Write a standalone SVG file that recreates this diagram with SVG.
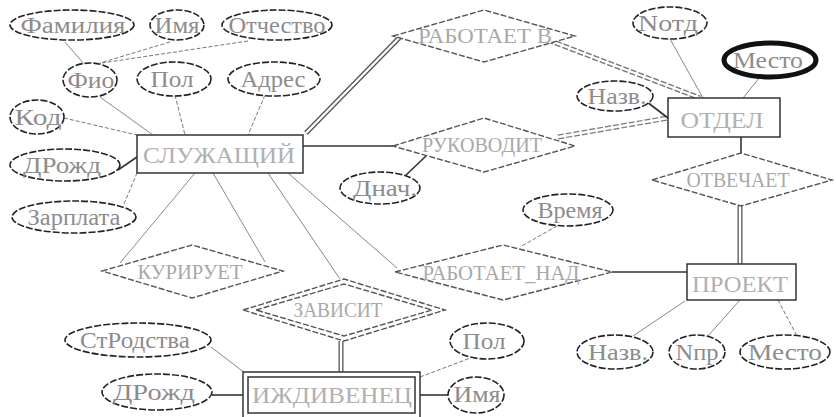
<svg xmlns="http://www.w3.org/2000/svg" width="836" height="417" viewBox="0 0 836 417">
<style>
text{font-family:"Liberation Serif","DejaVu Serif",serif;text-anchor:middle}
.at{font-size:23px;fill:#8c8c8c}
.en{font-size:24px;fill:#b0b0b0}
.rl{font-size:21px;fill:#a8a8a8}
.el{fill:#fff;stroke:#222;stroke-width:1.6;stroke-dasharray:7 2}
.key{fill:#fff;stroke:#111;stroke-width:5}
.rc{fill:#fff;stroke:#333;stroke-width:1.5}
.dm{fill:#fff;stroke:#555;stroke-width:1.4;stroke-dasharray:6 2}
.s{stroke:#888;stroke-width:1;fill:none}
.d{stroke:#777;stroke-width:1;stroke-dasharray:4 2;fill:none}
.k{stroke:#333;stroke-width:1.6;fill:none}
.dbo{stroke:#555;stroke-width:5;fill:none}
.dbi{stroke:#fff;stroke-width:2.4;fill:none}
.dbod{stroke:#777;stroke-width:5;fill:none;stroke-dasharray:6 2}
</style>
<rect width="836" height="417" fill="#fff"/>
<g id="connectors">
<path class="s" d="M65,42 L84,64"/>
<path class="d" d="M170,42 L100,63"/>
<path class="d" d="M248,41 L102,63"/>
<path class="s" d="M100,97 L153,135"/>
<path class="d" d="M175,95 L185,135"/>
<path class="d" d="M265,95 L248,135"/>
<path class="d" d="M64,118 L137,135"/>
<path class="k" d="M118,170 L137,157"/>
<path class="d" d="M124,204 L137,173"/>
<path class="s" d="M195,173 L120,263"/>
<path class="s" d="M213,173 L265,262"/>
<path class="s" d="M268,173 L340,279"/>
<path class="s" d="M288,173 L397,268"/>
<path class="dbo" d="M306,133 L400,37"/>
<path class="dbi" d="M306,133 L400,37"/>
<path class="k" d="M303,146 L393,146"/>
<path class="dbod" d="M548,40 L700,98"/>
<path class="dbi" d="M548,40 L700,98"/>
<path class="dbod" d="M558,137 L668,118"/>
<path class="dbi" d="M558,137 L668,118"/>
<path class="k" d="M405,176 L426,156"/>
<path class="s" d="M670,39 L703,98"/>
<path class="s" d="M760,77 L743,98"/>
<path class="k" d="M647,102 L668,118"/>
<path class="k" d="M741,137 L741,153"/>
<path class="dbo" d="M740,206 L740,264"/>
<path class="dbi" d="M740,206 L740,264"/>
<path class="d" d="M557,226 L520,247"/>
<path class="k" d="M612,272 L687,272"/>
<path class="s" d="M685,301 L633,336"/>
<path class="s" d="M740,300 L708,336"/>
<path class="d" d="M778,300 L797,336"/>
<path class="dbo" d="M341,341 L341,372"/>
<path class="dbi" d="M341,341 L341,372"/>
<path class="s" d="M211,347 L245,373"/>
<path class="k" d="M212,395 L243,395"/>
<path class="d" d="M420,377 L473,357"/>
<path class="k" d="M420,395 L448,395"/>
</g>
<g id="e-sluzh"><rect class="rc" x="137" y="135" width="166" height="38"/><text class="en" x="219" y="163" textLength="152" lengthAdjust="spacingAndGlyphs">СЛУЖАЩИЙ</text></g>
<g id="e-otdel"><rect class="rc" x="668" y="98" width="112" height="39"/><text class="en" x="722" y="128" textLength="83" lengthAdjust="spacingAndGlyphs">ОТДЕЛ</text></g>
<g id="e-proekt"><rect class="rc" x="687" y="264" width="109" height="36"/><text class="en" x="740" y="292" textLength="96" lengthAdjust="spacingAndGlyphs">ПРОЕКТ</text></g>
<g id="e-izhd"><rect class="rc" x="243" y="372" width="177" height="48"/><rect class="rc" x="248" y="377" width="167" height="36"/><text class="en" x="332" y="403" textLength="160" lengthAdjust="spacingAndGlyphs">ИЖДИВЕНЕЦ</text></g>
<g id="r-rabv"><polygon class="dm" points="393,36 484,10 575,36 484,62"/><text class="rl" x="485" y="43" textLength="134" lengthAdjust="spacingAndGlyphs">РАБОТАЕТ В</text></g>
<g id="r-ruk"><polygon class="dm" points="393,146 484,118 575,146 484,172"/><text class="rl" x="482" y="152" textLength="120" lengthAdjust="spacingAndGlyphs">РУКОВОДИТ</text></g>
<g id="r-otv"><polygon class="dm" points="652,180 741,153 832,180 741,206"/><text class="rl" x="738" y="187" font-size="18" textLength="103" lengthAdjust="spacingAndGlyphs">ОТВЕЧАЕТ</text></g>
<g id="r-rabnad"><polygon class="dm" points="395,272 503,245 612,272 503,300"/><text class="rl" x="501" y="280" textLength="157" lengthAdjust="spacingAndGlyphs">РАБОТАЕТ_НАД</text></g>
<g id="r-kur"><polygon class="dm" points="102,271 192,245 283,271 192,298"/><text class="rl" x="190" y="279" textLength="105" lengthAdjust="spacingAndGlyphs">КУРИРУЕТ</text></g>
<g id="r-zav"><polygon class="dm" points="243,310 344,279 445,310 344,341"/><polygon class="dm" points="256,310 344,284 432,310 344,336"/><text class="rl" x="338" y="317" textLength="89" lengthAdjust="spacingAndGlyphs">ЗАВИСИТ</text></g>
<g id="a-fam"><ellipse class="el" cx="72" cy="25" rx="62" ry="15"/><text class="at" x="73" y="33" textLength="105" lengthAdjust="spacingAndGlyphs">Фамилия</text></g>
<g id="a-imya"><ellipse class="el" cx="177" cy="25" rx="27" ry="15"/><text class="at" x="177" y="33" textLength="45" lengthAdjust="spacingAndGlyphs">Имя</text></g>
<g id="a-otch"><ellipse class="el" cx="277" cy="25" rx="55" ry="15"/><text class="at" x="277" y="33" textLength="97" lengthAdjust="spacingAndGlyphs">Отчество</text></g>
<g id="a-fio"><ellipse class="el" cx="90" cy="80" rx="27" ry="17"/><text class="at" x="91" y="88" textLength="47" lengthAdjust="spacingAndGlyphs">Фио</text></g>
<g id="a-pol"><ellipse class="el" cx="174" cy="79" rx="37" ry="17"/><text class="at" x="172" y="87" textLength="43" lengthAdjust="spacingAndGlyphs">Пол</text></g>
<g id="a-adr"><ellipse class="el" cx="274" cy="79" rx="46" ry="17"/><text class="at" x="273" y="87" textLength="65" lengthAdjust="spacingAndGlyphs">Адрес</text></g>
<g id="a-kod"><ellipse class="el" cx="37" cy="117" rx="27" ry="17"/><text class="at" x="38" y="125" textLength="47" lengthAdjust="spacingAndGlyphs">Код</text></g>
<g id="a-drozhd"><ellipse class="el" cx="65" cy="165" rx="55" ry="16"/><text class="at" x="62" y="173" textLength="78" lengthAdjust="spacingAndGlyphs">ДРожд</text></g>
<g id="a-zarp"><ellipse class="el" cx="74" cy="217" rx="62" ry="16"/><text class="at" x="74" y="225" textLength="93" lengthAdjust="spacingAndGlyphs">Зарплата</text></g>
<g id="a-dnach"><ellipse class="el" cx="380" cy="188" rx="40" ry="16"/><text class="at" x="385" y="196" textLength="64" lengthAdjust="spacingAndGlyphs">Днач.</text></g>
<g id="a-vremya"><ellipse class="el" cx="568" cy="210" rx="45" ry="16"/><text class="at" x="570" y="218" textLength="65" lengthAdjust="spacingAndGlyphs">Время</text></g>
<g id="a-notd"><ellipse class="el" cx="670" cy="23" rx="37" ry="16"/><text class="at" x="668" y="31" textLength="60" lengthAdjust="spacingAndGlyphs">Nотд</text></g>
<g id="a-mesto1"><ellipse class="key" cx="770" cy="60" rx="46" ry="17"/><text class="at" x="768" y="68" textLength="70" lengthAdjust="spacingAndGlyphs">Место</text></g>
<g id="a-nazv1"><ellipse class="el" cx="615" cy="96" rx="38" ry="15"/><text class="at" x="617" y="104" textLength="59" lengthAdjust="spacingAndGlyphs">Назв.</text></g>
<g id="a-strod"><ellipse class="el" cx="138" cy="340" rx="73" ry="17"/><text class="at" x="135" y="348" textLength="110" lengthAdjust="spacingAndGlyphs">СтРодства</text></g>
<g id="a-drozhd2"><ellipse class="el" cx="157" cy="392" rx="55" ry="18"/><text class="at" x="154" y="400" textLength="82" lengthAdjust="spacingAndGlyphs">ДРожд</text></g>
<g id="a-pol2"><ellipse class="el" cx="487" cy="341" rx="37" ry="18"/><text class="at" x="484" y="349" textLength="43" lengthAdjust="spacingAndGlyphs">Пол</text></g>
<g id="a-imya2"><ellipse class="el" cx="476" cy="395" rx="28" ry="18"/><text class="at" x="477" y="402" textLength="47" lengthAdjust="spacingAndGlyphs">Имя</text></g>
<g id="a-nazv2"><ellipse class="el" cx="615" cy="352" rx="38" ry="17"/><text class="at" x="618" y="360" textLength="60" lengthAdjust="spacingAndGlyphs">Назв.</text></g>
<g id="a-npr"><ellipse class="el" cx="697" cy="352" rx="28" ry="17"/><text class="at" x="697" y="360" textLength="43" lengthAdjust="spacingAndGlyphs">Nпр</text></g>
<g id="a-mesto2"><ellipse class="el" cx="785" cy="352" rx="45" ry="17"/><text class="at" x="785" y="360" textLength="74" lengthAdjust="spacingAndGlyphs">Место</text></g>
</svg>
